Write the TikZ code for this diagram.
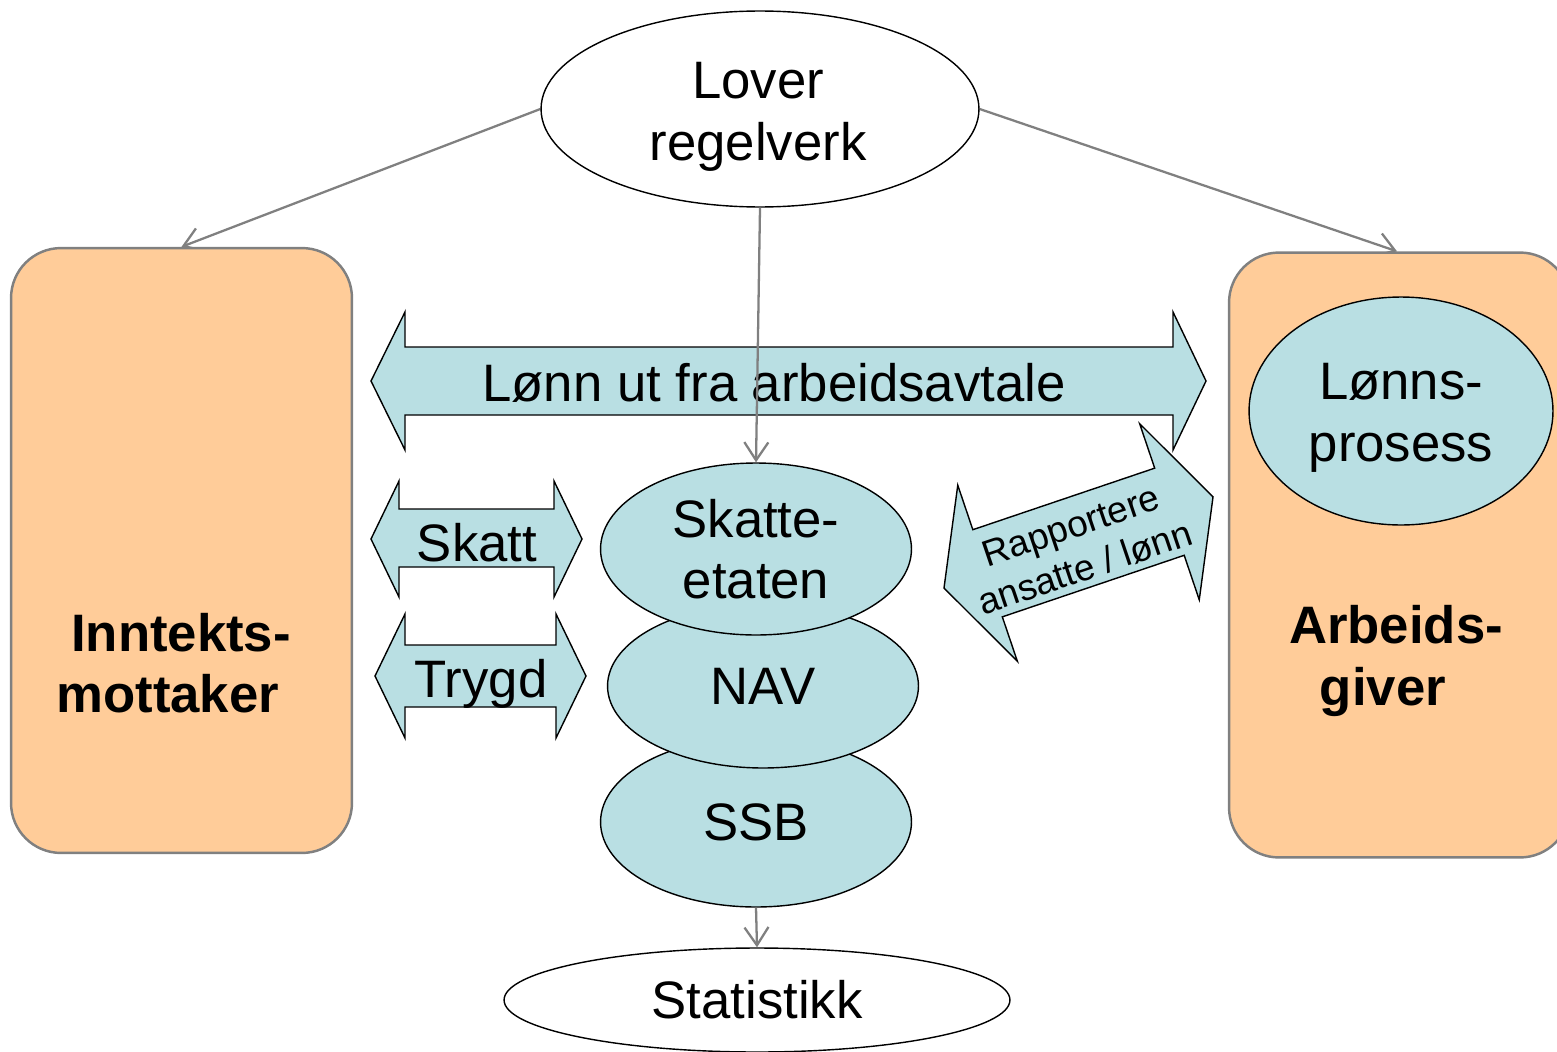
\documentclass[tikz,border=0pt]{standalone}
\usepackage{fontspec}
\setmainfont{Liberation Sans}
\usetikzlibrary{shapes.geometric,arrows.meta,backgrounds}
\definecolor{peach}{HTML}{FFCC99}
\definecolor{lblue}{HTML}{B9DFE3}
\definecolor{conn}{HTML}{808080}
\begin{document}
\begin{tikzpicture}[x=0.02cm,y=-0.02cm,
  bigfont/.style={font=\fontsize{30}{35}\selectfont},
  oval/.style={ellipse, draw=black, line width=0.8pt, inner sep=0pt, align=center, bigfont},
  blueoval/.style={oval, fill=lblue},
  whiteoval/.style={oval, fill=white},
  panel/.style={draw=conn, line width=1.4pt, fill=peach, rounded corners=1cm,
    minimum width=6.82cm, minimum height=12.1cm, inner sep=0pt},
  dblarrow/.style={draw=black, line width=0.8pt, fill=lblue},
  link/.style={draw=conn, line width=1.3pt, -{Straight Barb[length=3.6mm,width=4.8mm]}},
  txt/.style={bigfont, align=center, inner sep=0pt},
  boldtxt/.style={align=center, inner sep=0pt, font=\fontsize{30}{35}\selectfont\bfseries},
  smalltxt/.style={align=center, inner sep=0pt, font=\fontsize{21}{25}\selectfont}]
\useasboundingbox (0,0) rectangle (1557,1051);

% panels
\node[panel] (inn) at (181.5,550.5) {};
\node[panel] (arb) at (1399.5,555) {};
\node[blueoval, minimum width=6.08cm, minimum height=4.56cm] (lonns) at (1401,411) {};
\node[txt] (lonnstxt) at (1401,418) {Lønns-\\prosess};
\node[boldtxt] (inntxt) at (181,663) {Inntekts-\\mottaker\hspace*{0.5em}};
\node[boldtxt] (arbtxt) at (1396,661) {Arbeids-\\giver\hspace*{0.5em}};

% top ellipse
\node[whiteoval, minimum width=8.76cm, minimum height=3.92cm] (lover) at (760,109) {};
\node[txt] (lovertxt) at (758,117) {Lover\\regelverk};

% agency stack
\node[blueoval, minimum width=6.22cm, minimum height=3.4cm] (ssb) at (756,822) {SSB};
\node[blueoval, minimum width=6.22cm, minimum height=3.28cm] (nav) at (763,686) {NAV};
\node[blueoval, minimum width=6.22cm, minimum height=3.44cm] (skatte) at (756,549) {Skatte-\\etaten};

% statistics
\node[whiteoval, minimum width=10.12cm, minimum height=2.08cm] (stat) at (757,1000) {Statistikk};

% double arrows
\draw[dblarrow] (371,381) -- (405,312) -- (405,347) -- (1173,347) -- (1173,312) -- (1206,381)
  -- (1173,450) -- (1173,415) -- (405,415) -- (405,450) -- cycle;
\node[txt, anchor=base] (lonntxt) at (774,401) {Lønn ut fra arbeidsavtale};

\draw[dblarrow] (371,539) -- (399,481) -- (399,509) -- (554,509) -- (554,481) -- (582,539)
  -- (554,597) -- (554,567) -- (399,567) -- (399,597) -- cycle;
\node[txt, anchor=base] (skatttxt) at (477,561) {Skatt};

\draw[dblarrow] (375,676) -- (405,614) -- (405,645) -- (556,645) -- (556,614) -- (586,676)
  -- (556,738) -- (556,707) -- (405,707) -- (405,738) -- cycle;
\node[txt, anchor=base] (trygdtxt) at (481,697) {Trygd};

\begin{scope}[shift={(1078.5,542.5)}, rotate=18.7]
  \draw[dblarrow] (-142,0) -- (-96,-93) -- (-96,-46) -- (96,-46) -- (96,-93) -- (142,0)
    -- (96,93) -- (96,46) -- (-96,46) -- (-96,93) -- cycle;
\end{scope}
\node[smalltxt, rotate=18.7] (rapptxt) at (1078,547) {Rapportere\\ansatte / lønn};

% connectors
\begin{pgfonlayer}{background}
  \draw[link] (lover.west) -- (inn.north);
  \draw[link] (lover.east) -- ([xshift=-0.05cm]arb.north);
\end{pgfonlayer}
\draw[link] (lover.south) -- (skatte.north);
\draw[link] (ssb.south) -- (stat.north);
\end{tikzpicture}
\end{document}
